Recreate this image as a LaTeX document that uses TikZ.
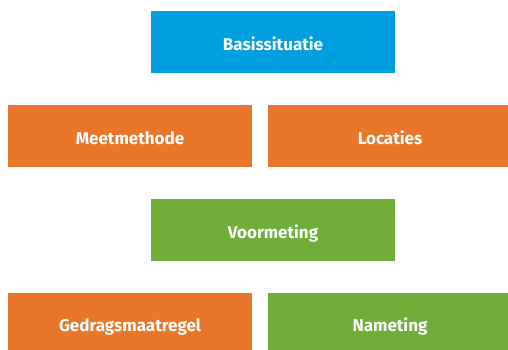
\documentclass[tikz,border=0pt]{standalone}
\usepackage{fontspec}
\setmainfont{Fira Sans}
\definecolor{cblue}{RGB}{0,160,224}
\definecolor{corange}{RGB}{234,118,42}
\definecolor{cgreen}{RGB}{111,174,56}
\begin{document}
\begin{tikzpicture}[x=1pt,y=-1pt,
  box/.style={rectangle,draw=none,minimum width=244pt,minimum height=61.5pt,inner sep=0pt,
    text height=16pt,text depth=0pt,
    text=white,font=\fontsize{17}{20}\selectfont\bfseries},
  bluebox/.style={box,fill=cblue},
  orangebox/.style={box,fill=corange},
  greenbox/.style={box,fill=cgreen}]
\useasboundingbox (0,0) rectangle (508,349);
\node[bluebox] (basis) at (273,42) {Basissituatie};
\node[orangebox] (meet) at (130,136) {Meetmethode};
\node[orangebox] (loc) at (390,136) {Locaties};
\node[greenbox] (voor) at (273,230) {Voormeting};
\node[orangebox] (gedrag) at (130,323.7) {Gedragsmaatregel};
\node[greenbox] (na) at (390,323.7) {Nameting};
\end{tikzpicture}
\end{document}
